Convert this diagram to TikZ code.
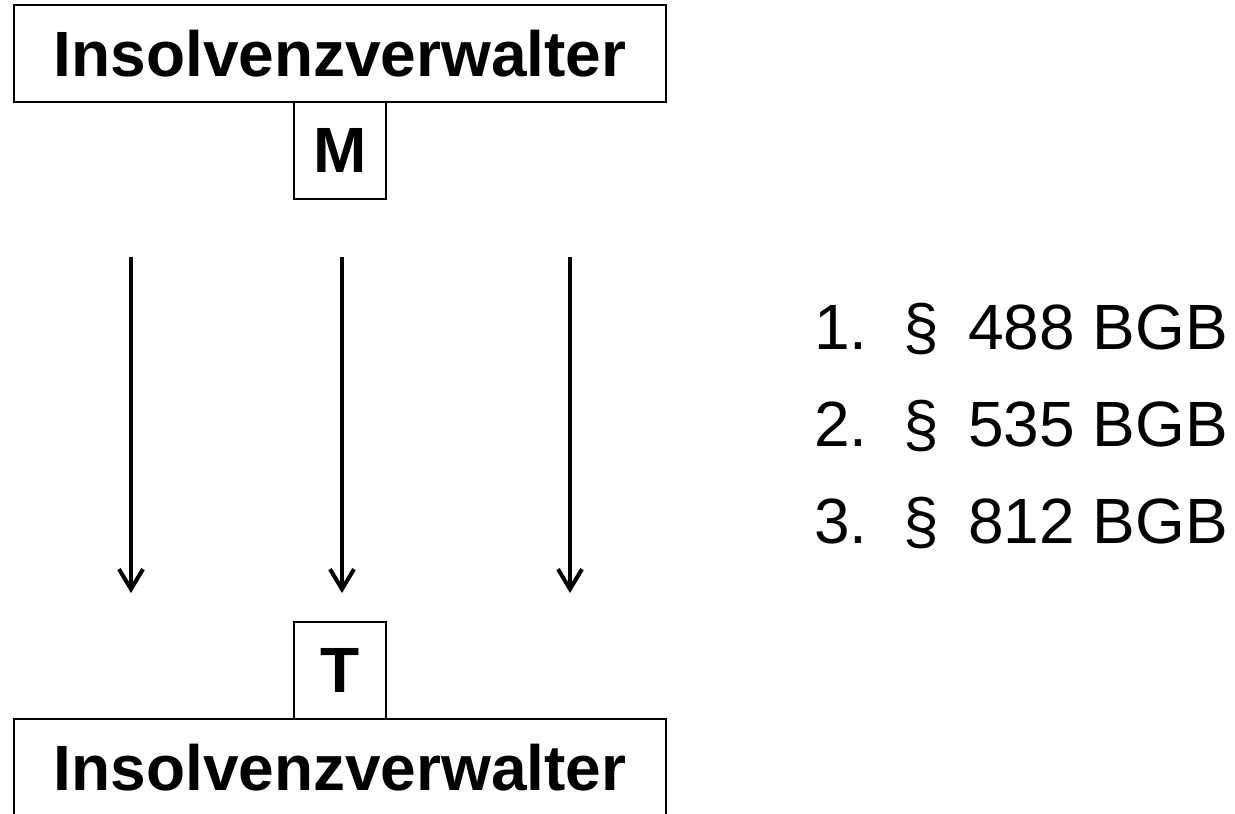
\documentclass[tikz,border=0pt]{standalone}
\usepackage{fontspec}
\setmainfont{Liberation Sans}
\usetikzlibrary{arrows.meta}
\begin{document}
\begin{tikzpicture}[x=1pt,y=-1pt,
  bigfont/.style={font=\fontsize{64pt}{70pt}\selectfont\bfseries},
  listfont/.style={font=\fontsize{64pt}{70pt}\selectfont},
  wide/.style={draw=black,line width=1.6pt,minimum width=652pt,minimum height=97pt,inner sep=0pt,bigfont},
  tag/.style={draw=black,line width=1.6pt,minimum width=92pt,minimum height=97pt,inner sep=0pt,bigfont},
  flow/.style={line width=4pt,-{Straight Barb[length=20pt,width=24pt,line width=4pt]}},
  item/.style={anchor=base west,inner sep=0pt,listfont}]
\useasboundingbox (0,0) rectangle (1235,814);
\clip (0,0) rectangle (1235,814);

% upper administrator with its tag
\node[wide] (top) at (340,53.5) {Insolvenzverwalter};
\node[tag] (m) at (340,150.5) {M};

% three transfer arrows
\coordinate (a1s) at (131,257); \coordinate (a1e) at (131,593);
\coordinate (a2s) at (342,257); \coordinate (a2e) at (342,593);
\coordinate (a3s) at (570,257); \coordinate (a3e) at (570,593);
\draw[flow] (a1s) -- (a1e);
\draw[flow] (a2s) -- (a2e);
\draw[flow] (a3s) -- (a3e);

% lower administrator with its tag
\node[tag] (t) at (340,670.5) {T};
\node[wide] (bottom) at (340,767.5) {Insolvenzverwalter};

% legal bases
\node[item] (l1) at (814,349) {\makebox[89pt][l]{1.}\makebox[65pt][l]{\S}488 BGB};
\node[item] (l2) at (814,446) {\makebox[89pt][l]{2.}\makebox[65pt][l]{\S}535 BGB};
\node[item] (l3) at (814,543) {\makebox[89pt][l]{3.}\makebox[65pt][l]{\S}812 BGB};
\end{tikzpicture}
\end{document}
